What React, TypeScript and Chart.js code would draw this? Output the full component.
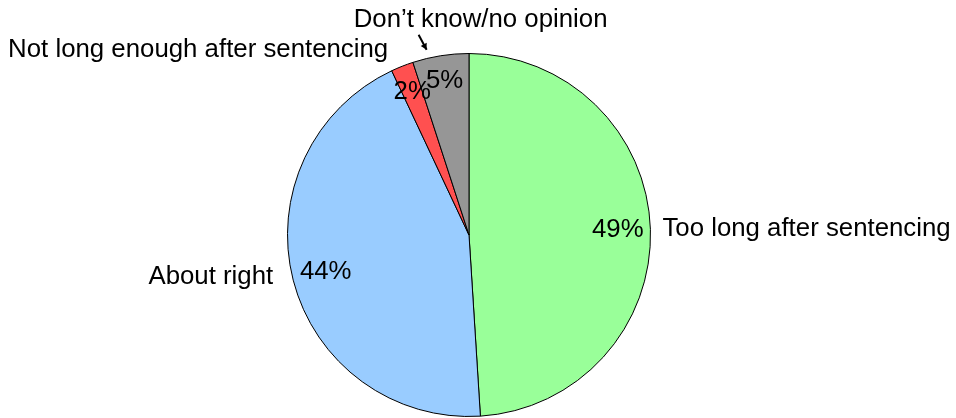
import React, { useEffect, useRef } from "react";
import { Chart, registerables } from "chart.js";

Chart.register(...registerables);

// Survey responses, clockwise from 12 o'clock
const categories = [
  "Too long after sentencing",
  "About right",
  "Not long enough after sentencing",
  "Don\u2019t know/no opinion",
];
const shares = [49, 44, 2, 5];
const sliceColors = ["#99FF99", "#99CCFF", "#FF5050", "#969696"];

const FONT = "25.8px 'Liberation Sans', Arial, sans-serif";

// Label placement per slice: the percentage sits at pctR * radius along the
// slice's mid-angle; the category name is offset (dx, dy) from the rim point.
const labelLayout = [
  { pctR: 0.82, align: "left", dx: 12, dy: 0, arrow: null },
  { pctR: 0.815, align: "right", dx: -20, dy: -3, arrow: null },
  { pctR: 0.85, align: "right", dx: -14, dy: -16, arrow: null },
  {
    pctR: 0.857,
    align: "center",
    dx: 40,
    dy: -36,
    arrow: { x0: -22, y0: -21, x1: -14, y1: -6 },
  },
] as const;

const pieLabels = {
  id: "pieLabels",
  afterDatasetsDraw(chart: Chart) {
    const ctx = chart.ctx;
    const meta = chart.getDatasetMeta(0);
    ctx.save();
    ctx.font = FONT;
    ctx.fillStyle = "#000";
    ctx.strokeStyle = "#000";
    ctx.textBaseline = "middle";
    meta.data.forEach((el: any, i: number) => {
      const { x, y, startAngle, endAngle, outerRadius } = el.getProps(
        ["x", "y", "startAngle", "endAngle", "outerRadius"],
        true
      );
      const mid = (startAngle + endAngle) / 2;
      const cos = Math.cos(mid);
      const sin = Math.sin(mid);
      const lay = labelLayout[i];
      const value = chart.data.datasets[0].data[i] as number;

      // percentage inside the slice
      ctx.textAlign = "center";
      ctx.fillText(
        value + "%",
        x + cos * outerRadius * lay.pctR,
        y + sin * outerRadius * lay.pctR
      );

      // category name outside the rim
      const rx = x + cos * outerRadius;
      const ry = y + sin * outerRadius;
      ctx.textAlign = lay.align as CanvasTextAlign;
      ctx.fillText(String(chart.data.labels![i]), rx + lay.dx, ry + lay.dy);

      if (lay.arrow) {
        const a = lay.arrow;
        const x0 = rx + a.x0;
        const y0 = ry + a.y0;
        const x1 = rx + a.x1;
        const y1 = ry + a.y1;
        ctx.lineWidth = 2;
        ctx.beginPath();
        ctx.moveTo(x0, y0);
        ctx.lineTo(x1, y1);
        ctx.stroke();
        const ang = Math.atan2(y1 - y0, x1 - x0);
        const head = 7;
        ctx.beginPath();
        ctx.moveTo(x1, y1);
        ctx.lineTo(x1 - head * Math.cos(ang - 0.5), y1 - head * Math.sin(ang - 0.5));
        ctx.lineTo(x1 - head * Math.cos(ang + 0.5), y1 - head * Math.sin(ang + 0.5));
        ctx.closePath();
        ctx.fill();
      }
    });
    ctx.restore();
  },
};

export default function App() {
  const canvasRef = useRef<HTMLCanvasElement | null>(null);

  useEffect(() => {
    const canvas = canvasRef.current;
    if (!canvas) return;
    const chart = new Chart(canvas, {
      type: "pie",
      data: {
        labels: categories,
        datasets: [
          {
            data: shares,
            backgroundColor: sliceColors,
            borderColor: "#000",
            borderWidth: 1,
          },
        ],
      },
      options: {
        responsive: false,
        animation: false,
        layout: { padding: { left: 287, right: 305, top: 53, bottom: 1 } },
        plugins: {
          legend: { display: false },
          tooltip: { enabled: false },
        },
      },
      plugins: [pieLabels],
    });
    return () => chart.destroy();
  }, []);

  return (
    <div
      style={{
        position: "absolute",
        left: 0,
        top: 0,
        width: 956,
        height: 418,
        background: "#fff",
      }}
    >
      <canvas ref={canvasRef} width={956} height={418} />
    </div>
  );
}
